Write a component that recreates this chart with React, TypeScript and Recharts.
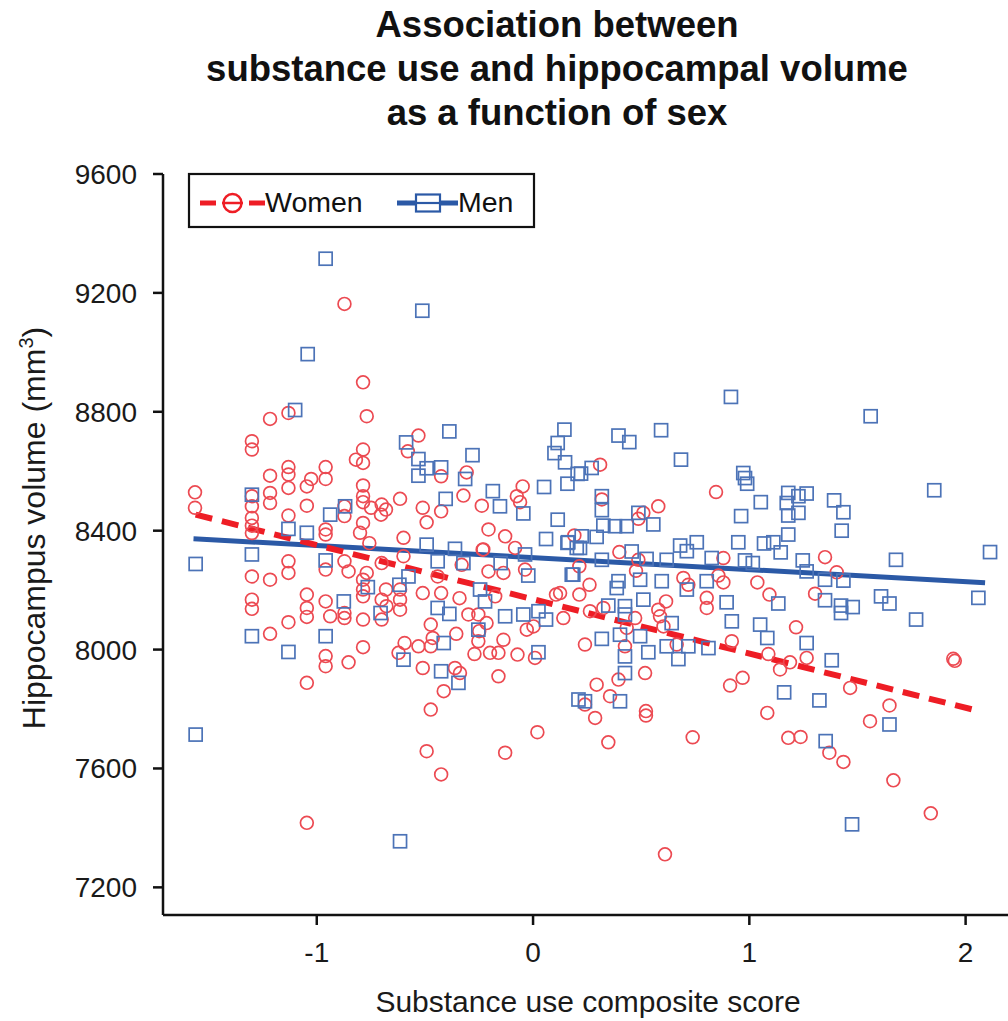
import React from "react";
import { ScatterChart, Scatter, XAxis, YAxis, ReferenceLine } from "recharts";

const titleLines = ["Association between", "substance use and hippocampal volume", "as a function of sex"];
const xLabel = "Substance use composite score";
const yLabel = "Hippocampus volume (mm";
const xTicks = [-1, 0, 1, 2];
const yTicks = [7200, 7600, 8000, 8400, 8800, 9200, 9600];

// Women (red circles): [score, volume]
const women: [number, number][] = [
  [-0.872, 9163], [-0.786, 8899], [-0.769, 8785], [-1.216, 8776], [-1.131, 8796], [-1.3, 8701], [-1.3, 8673],
  [-1.216, 8585], [-1.131, 8614], [-1.131, 8589], [-1.131, 8544], [-0.959, 8614], [-0.959, 8574], [-1.026, 8574],
  [-1.046, 8549], [-1.046, 8484], [-1.216, 8527], [-1.216, 8493], [-1.3, 8516], [-1.3, 8482], [-1.3, 8443],
  [-1.3, 8417], [-1.131, 8451], [-1.563, 8529], [-1.563, 8477], [-0.786, 8673], [-0.819, 8639], [-0.786, 8628],
  [-0.786, 8552], [-0.786, 8516], [-0.786, 8496], [-0.786, 8426], [-0.8, 8393], [-0.749, 8477], [-0.7, 8488],
  [-0.703, 8454], [-0.68, 8471], [-0.615, 8507], [-0.53, 8720], [-0.579, 8667], [-0.51, 8477], [-0.492, 8428],
  [-0.425, 8465], [-0.425, 8583], [-0.307, 8596], [-0.322, 8518], [-0.237, 8484], [-0.206, 8404], [-0.129, 8381],
  [-0.075, 8516], [-0.048, 8549], [-0.06, 8496], [-0.083, 8342], [-0.599, 8376], [-0.872, 8482], [-0.872, 8449],
  [-0.959, 8404], [-0.959, 8387], [0.191, 8384], [-0.23, 8337],
  [-1.3, 8392], [-1.3, 8246], [-1.3, 8168], [-1.3, 8137], [-1.216, 8235], [-1.216, 8053], [-1.131, 8297],
  [-1.131, 8258], [-1.131, 8092], [-1.046, 8185], [-1.046, 8140], [-1.046, 8110], [-1.046, 7888], [-0.959, 8269],
  [-0.959, 8162], [-0.959, 7978], [-0.959, 7944], [-0.938, 8112], [-0.872, 8297], [-0.853, 8263], [-0.872, 8123],
  [-0.872, 8106], [-0.853, 7957], [-0.786, 8235], [-0.786, 8202], [-0.786, 8179], [-0.786, 8101], [-0.786, 8008],
  [-0.769, 8258], [-0.757, 8358], [-0.7, 8291], [-0.68, 8202], [-0.7, 8168], [-0.7, 8101], [-0.678, 8146],
  [-0.615, 8202], [-0.615, 8168], [-0.615, 8134], [-0.594, 8022], [-0.622, 7989], [-0.599, 8314], [-0.53, 8011],
  [-0.51, 8190], [-0.51, 7938], [-0.492, 7658], [-0.473, 8084], [-0.473, 7798], [-0.464, 8039], [-0.473, 8011],
  [-0.425, 7580], [-0.425, 8190], [-0.441, 8246], [-0.413, 7860], [-0.355, 8053], [-0.361, 7938], [-0.338, 7921],
  [-0.34, 8173], [-0.33, 8285], [-0.299, 8118], [-0.271, 7985], [-0.253, 8118], [-0.253, 8028], [-0.249, 8062],
  [-0.233, 8336], [-0.206, 8263], [-0.215, 8089], [-0.199, 7989], [-0.16, 7989], [-0.16, 7910], [-0.175, 8179],
  [-0.137, 8033], [-0.137, 8258], [-0.129, 7653], [-0.072, 7983], [-0.037, 8269], [-0.029, 8067], [0.002, 8078],
  [0.009, 7972], [0.02, 7722], [0.106, 8185], [0.14, 8106], [0.214, 8280], [-1.046, 7417],
  [0.31, 8622], [0.318, 8505], [0.579, 8482], [0.51, 8460], [0.487, 8440], [0.846, 8530], [0.399, 8328],
  [0.487, 8302], [0.476, 8265], [0.261, 8218], [0.214, 8185], [0.125, 8190], [0.325, 8140], [0.263, 8129],
  [0.24, 8017], [0.425, 8011], [0.395, 7899], [0.294, 7882], [0.356, 7843], [0.24, 7815], [0.287, 7770],
  [0.348, 7688], [0.518, 7921], [0.522, 7793], [0.522, 7778], [0.738, 7705], [0.615, 8162], [0.579, 8134],
  [0.587, 8112], [0.603, 8078], [0.472, 8106], [0.433, 8073], [0.664, 8017], [0.695, 8241], [0.718, 8218],
  [0.803, 8174], [0.803, 8140], [0.88, 8308], [0.857, 8249], [0.88, 8226], [1.037, 8226], [1.093, 8185],
  [0.919, 8028], [0.911, 7879], [0.969, 7905], [1.088, 7985], [1.142, 7933], [1.188, 7957], [1.265, 7972],
  [1.216, 8075], [1.304, 8188], [1.35, 8311], [1.404, 8260], [1.083, 7787], [1.18, 7703], [1.237, 7706],
  [1.37, 7653], [1.435, 7622], [1.466, 7871], [1.558, 7759], [1.648, 7812], [1.666, 7560], [1.839, 7449],
  [1.943, 7969], [1.95, 7962], [0.61, 7311],
];

// Men (blue squares): [score, volume]
const men: [number, number][] = [
  [-0.959, 9315], [-0.512, 9140], [-1.042, 8994], [-1.1, 8806], [-0.587, 8697], [-0.387, 8734], [-0.53, 8641],
  [-0.492, 8610], [-0.425, 8613], [-0.53, 8585], [-0.28, 8654], [-0.314, 8574], [-0.404, 8507], [-0.186, 8533],
  [-0.153, 8482], [-0.045, 8458], [0.145, 8740], [0.114, 8695], [0.099, 8661], [0.148, 8630], [0.206, 8591],
  [0.159, 8558], [0.051, 8547], [0.114, 8437], [0.06, 8372], [0.159, 8359], [0.202, 8342], [-1.3, 8521],
  [-1.3, 8320], [-1.131, 8406], [-1.046, 8393], [-0.938, 8454], [-0.869, 8482], [-0.492, 8353], [-0.361, 8339],
  [-0.037, 8320], [-0.959, 8300],
  [-1.56, 8288], [-1.56, 7714], [-1.3, 8045], [-1.131, 7992], [-0.959, 8045], [-0.875, 8162], [-0.764, 8210],
  [-0.705, 8123], [-0.618, 8218], [-0.576, 8246], [-0.599, 7966], [-0.441, 8297], [-0.441, 8140], [-0.387, 8120],
  [-0.413, 8022], [-0.425, 7927], [-0.345, 7888], [-0.322, 8291], [-0.253, 8067], [-0.245, 8202], [-0.222, 8162],
  [-0.15, 8291], [-0.129, 8112], [-0.022, 8249], [-0.045, 8118], [0.025, 8129], [0.06, 8101], [0.025, 7991],
  [0.179, 8252], [0.21, 7832], [-0.615, 7355], [1.475, 7412],
  [0.915, 8850], [1.561, 8785], [0.395, 8720], [0.445, 8698], [0.592, 8738], [0.222, 8592], [0.271, 8611],
  [0.684, 8639], [0.972, 8594], [0.98, 8577], [0.99, 8558], [0.318, 8516], [0.318, 8469], [0.325, 8417],
  [0.379, 8415], [0.433, 8415], [0.556, 8421], [0.487, 8460], [0.225, 8381], [0.294, 8379], [0.163, 8361],
  [0.217, 8342], [0.962, 8449], [1.053, 8496], [1.18, 8527], [1.265, 8525], [1.227, 8516], [1.173, 8493],
  [1.392, 8502], [1.435, 8462], [1.18, 8451], [1.227, 8460], [1.427, 8400], [1.18, 8387], [1.855, 8536],
  [0.949, 8361], [1.068, 8357], [1.111, 8361], [0.757, 8361], [0.68, 8350], [0.711, 8331], [2.113, 8328],
  [0.456, 8330], [0.318, 8302], [0.525, 8305], [0.618, 8302], [0.826, 8308], [0.98, 8300], [1.016, 8291],
  [1.145, 8327], [1.247, 8300], [1.265, 8263], [1.678, 8302], [0.186, 8252], [0.395, 8230], [0.387, 8207],
  [0.495, 8235], [0.595, 8230], [0.711, 8202], [0.803, 8230], [1.435, 8232], [1.35, 8235], [1.609, 8179],
  [1.648, 8155], [2.059, 8174], [0.895, 8159], [1.134, 8155], [1.35, 8166], [1.424, 8148], [1.424, 8123],
  [1.478, 8143], [1.771, 8101], [0.348, 8148], [0.425, 8146], [0.51, 8168], [0.425, 8118], [0.919, 8095],
  [0.641, 8089], [1.05, 8084], [1.083, 8039], [1.265, 8022], [0.318, 8036], [0.402, 8050], [0.495, 8045],
  [0.618, 8011], [0.718, 8011], [0.811, 8005], [0.672, 7968], [0.425, 7977], [0.533, 7991], [1.381, 7964],
  [0.425, 7921], [1.161, 7856], [1.324, 7829], [0.24, 7826], [0.402, 7826], [1.648, 7748], [1.353, 7692],
];

// Fitted regression lines: [x, y] endpoints
const womenFit: [number, number][] = [[-1.56, 8454], [2.067, 7792]];
const menFit: [number, number][] = [[-1.57, 8373], [2.09, 8225]];

const womenData = women.map(([x, y]) => ({ x, y }));
const menData = men.map(([x, y]) => ({ x, y }));

const FONT = "'Liberation Sans', Arial, Helvetica, sans-serif";
const RED = "#EE1D25";
const RED_PT = "#EC4A52";
const BLUE = "#2B59A6";
const BLUE_PT = "#4C73B7";

const CircleShape = (p: any) => (
  <circle cx={p.cx} cy={p.cy} r={6.4} fill="none" stroke={RED_PT} strokeWidth={1.7} />
);
const SquareShape = (p: any) => (
  <rect x={p.cx - 6.5} y={p.cy - 6.5} width={13} height={13} fill="none" stroke={BLUE_PT} strokeWidth={1.7} />
);

export default function App() {
  return (
    <div style={{ position: "absolute", left: 0, top: 0, width: 1008, height: 1021, background: "#fff" }}>
      <ScatterChart width={1008} height={1021} margin={{ top: 174, right: 0, bottom: 46, left: 103 }}>
        <XAxis
          type="number"
          dataKey="x"
          domain={[-1.711, 2.196]}
          ticks={xTicks}
          allowDataOverflow
          height={60}
          tickSize={10}
          tickMargin={17}
          axisLine={{ stroke: "#111", strokeWidth: 2.5 }}
          tickLine={{ stroke: "#111", strokeWidth: 2.5 }}
          tick={{ fontSize: 28, fill: "#1a1a1a", fontFamily: FONT }}
        />
        <YAxis
          type="number"
          dataKey="y"
          domain={[7107, 9600]}
          ticks={yTicks}
          allowDataOverflow
          width={60}
          tickSize={10}
          tickMargin={16}
          axisLine={{ stroke: "#111", strokeWidth: 2.5 }}
          tickLine={{ stroke: "#111", strokeWidth: 2.5 }}
          tick={{ fontSize: 28, fill: "#1a1a1a", fontFamily: FONT }}
        />
        <Scatter name="Women" data={womenData} shape={CircleShape} isAnimationActive={false} />
        <Scatter name="Men" data={menData} shape={SquareShape} isAnimationActive={false} />
        <ReferenceLine
          segment={menFit.map(([x, y]) => ({ x, y }))}
          stroke={BLUE}
          strokeWidth={5}
        />
        <ReferenceLine
          segment={womenFit.map(([x, y]) => ({ x, y }))}
          stroke={RED}
          strokeWidth={6}
          strokeDasharray="17 10"
        />
      </ScatterChart>
      <svg
        width={1008}
        height={1021}
        style={{ position: "absolute", left: 0, top: 0, pointerEvents: "none" }}
      >
        {titleLines.map((t, i) => (
          <text
            key={i}
            x={557}
            y={37 + i * 44}
            textAnchor="middle"
            fontFamily={FONT}
            fontWeight="bold"
            fontSize={36.5}
            fill="#111"
          >
            {t}
          </text>
        ))}
        <text x={588} y={1012} textAnchor="middle" fontFamily={FONT} fontSize={30} fill="#1a1a1a">
          {xLabel}
        </text>
        <text
          transform="translate(45,528) rotate(-90)"
          textAnchor="middle"
          fontFamily={FONT}
          fontSize={32}
          fill="#1a1a1a"
        >
          {yLabel}
          <tspan dy={-12} fontSize={20}>3</tspan>
          <tspan dy={12}>)</tspan>
        </text>
        {/* legend */}
        <rect x={189} y={174} width={345} height={53} fill="#fff" stroke="#111" strokeWidth={2.2} />
        <line x1={200} y1={203} x2={216} y2={203} stroke={RED} strokeWidth={5} />
        <line x1={222} y1={203} x2={243} y2={203} stroke={RED} strokeWidth={2.5} />
        <line x1={249} y1={203} x2={265} y2={203} stroke={RED} strokeWidth={5} />
        <circle cx={232.5} cy={203} r={9} fill="none" stroke={RED} strokeWidth={2.5} />
        <text x={265} y={212} fontFamily={FONT} fontSize={28.5} fill="#111">Women</text>
        <line x1={397} y1={203} x2={458} y2={203} stroke={BLUE} strokeWidth={5} />
        <rect x={416} y={194.5} width={24} height={17} fill="#fff" stroke={BLUE} strokeWidth={2.2} />
        <line x1={416} y1={203} x2={440} y2={203} stroke={BLUE} strokeWidth={2.2} />
        <text x={458} y={212} fontFamily={FONT} fontSize={28.5} fill="#111">Men</text>
      </svg>
    </div>
  );
}
